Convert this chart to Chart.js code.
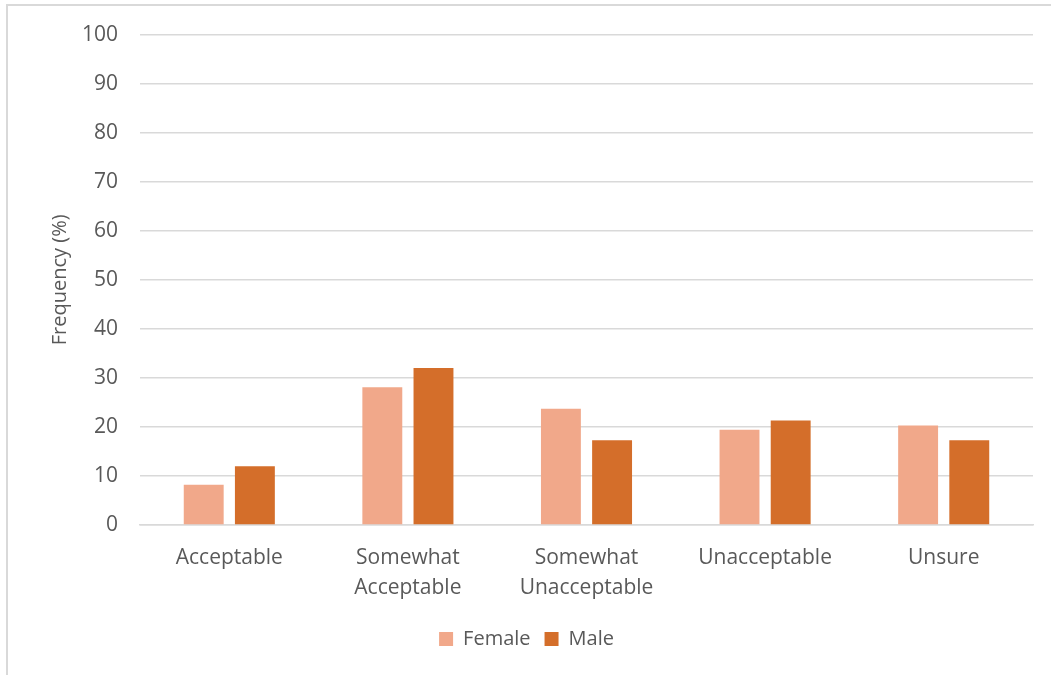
<!DOCTYPE html>
<html>
<head>
<meta charset="utf-8">
<script src="https://cdn.jsdelivr.net/npm/chart.js@4/dist/chart.umd.min.js"></script>
<style>
  html, body { margin: 0; padding: 0; background: #fff; }
  #frame { position: absolute; left: 6px; top: 4px; width: 1051px; height: 680px; border-left: 2px solid #d9d9d9; border-top: 2px solid #d9d9d9; box-sizing: border-box; }
  #wrap { position: absolute; left: 0; top: 0; width: 1051px; height: 675px; }
</style>
</head>
<body>
<div id="frame"></div>
<div id="wrap"><canvas id="c" width="1051" height="675"></canvas></div>
<script>
const categories = [["Acceptable"], ["Somewhat", "Acceptable"], ["Somewhat", "Unacceptable"], ["Unacceptable"], ["Unsure"]];
const female = [8.2, 28.1, 23.7, 19.4, 20.3];
const male = [12.0, 32.0, 17.3, 21.3, 17.3];
const yTicks = [0, 10, 20, 30, 40, 50, 60, 70, 80, 90, 100];

const FONT = "'Open Sans', 'Liberation Sans', sans-serif";
const TEXT = '#595959';

new Chart(document.getElementById('c'), {
  type: 'bar',
  data: {
    labels: categories,
    datasets: [
      { label: 'Female', data: female, backgroundColor: '#F1A88A', categoryPercentage: 0.573, barPercentage: 0.78 },
      { label: 'Male', data: male, backgroundColor: '#D46E2A', categoryPercentage: 0.573, barPercentage: 0.78 }
    ]
  },
  options: {
    responsive: false,
    animation: false,
    layout: { padding: { left: 20, right: 18, top: 34, bottom: 16 } },
    plugins: {
      legend: {
        position: 'bottom',
        labels: { font: { family: FONT, size: 20 }, color: TEXT, boxWidth: 14, boxHeight: 14, padding: 14 }
      },
      tooltip: { enabled: false }
    },
    scales: {
      x: {
        grid: { display: false },
        border: { display: true, color: '#d9d9d9', width: 1.5 },
        ticks: { font: { family: FONT, size: 21, lineHeight: 1.43 }, color: TEXT, padding: 10, maxRotation: 0 },
        afterFit: (s) => { s.height = 90; }
      },
      y: {
        min: 0, max: 100,
        afterBuildTicks: (s) => { s.ticks = yTicks.map(v => ({ value: v })); },
        grid: { color: '#d9d9d9', lineWidth: 1.5, drawTicks: false },
        border: { display: false },
        ticks: { font: { family: FONT, size: 21 }, color: TEXT, padding: 22 },
        title: { display: true, text: 'Frequency (%)', font: { family: FONT, size: 20 }, color: TEXT, padding: { top: 28, bottom: 0 } },
        afterFit: (s) => { s.width = 120; }
      }
    }
  }
});
</script>
</body>
</html>
